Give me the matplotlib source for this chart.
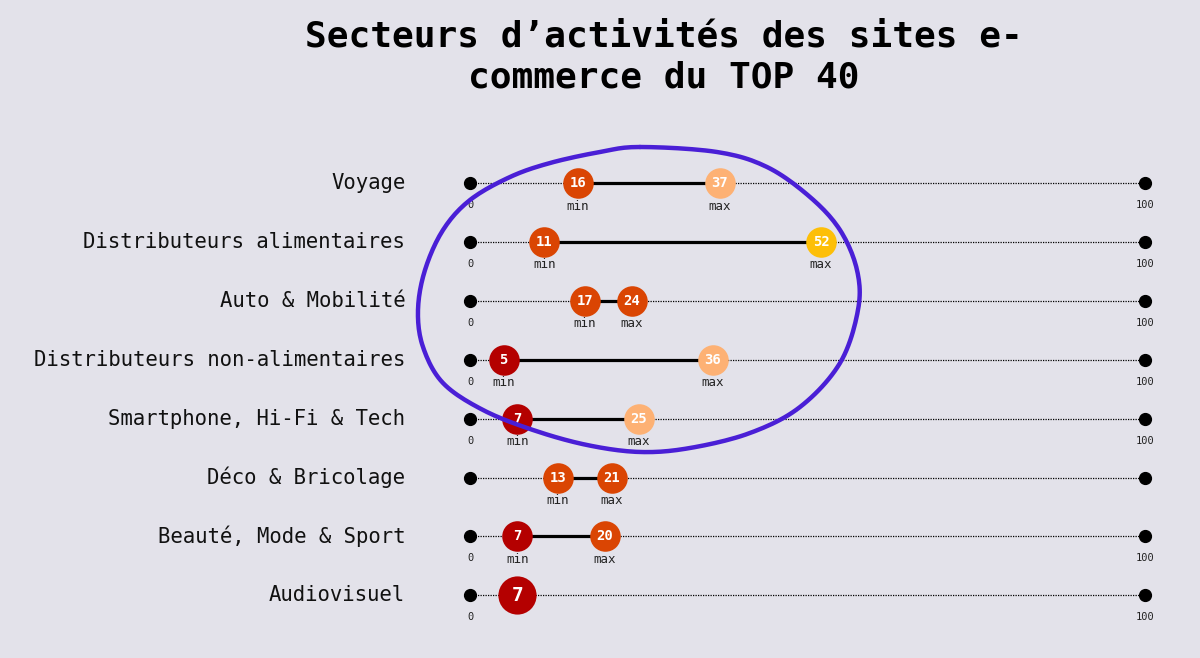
import matplotlib
matplotlib.use("Agg")
import matplotlib.pyplot as plt
import numpy as np

# data
secteurs = ["Voyage", "Distributeurs alimentaires", "Auto & Mobilité",
            "Distributeurs non-alimentaires", "Smartphone, Hi-Fi & Tech",
            "Déco & Bricolage", "Beauté, Mode & Sport", "Audiovisuel"]
val_min = [16, 11, 17, 5, 7, 13, 7, 7]
val_max = [37, 52, 24, 36, 25, 21, 20, None]
show_scale = [True, True, True, True, True, False, True, True]

bg = "#e3e2ea"
mono = "DejaVu Sans Mono"


def couleur(v):
    if v <= 7:
        return "#b40000"
    if v < 25:
        return "#da4503"
    if v < 50:
        return "#fdb174"
    return "#fdbf08"


fig = plt.figure(figsize=(12, 6.58), dpi=100, facecolor=bg)
ax = fig.add_axes([0, 0, 1, 1])
ax.set_facecolor(bg)
ax.set_xlim(-470 / 6.75, 730 / 6.75)
ax.set_ylim((658 - 183) / 58.9, -183 / 58.9)
ax.axis("off")

for i, nom in enumerate(secteurs):
    ax.text(-9.6, i, nom, ha="right", va="center", fontsize=14.9,
            family=mono, color="#111111")
    # echelle 0 - 100
    ax.plot([0, 100], [i, i], ls=(0, (1, 1)), lw=0.9, color="black", zorder=1)
    ax.plot([0, 100], [i, i], "o", ms=8.5, color="black", zorder=2, ls="none")
    if show_scale[i]:
        ax.annotate("0", (0, i), xytext=(0, -22), textcoords="offset pixels",
                    ha="center", va="center", fontsize=7.5, family=mono,
                    color="#222222")
        ax.annotate("100", (100, i), xytext=(0, -22), textcoords="offset pixels",
                    ha="center", va="center", fontsize=7.5, family=mono,
                    color="#222222")

    vmin = val_min[i]
    vmax = val_max[i]
    if vmax is None:
        ax.plot(vmin, i, "o", ms=27.5, color=couleur(vmin), mec="none", zorder=4)
        ax.text(vmin, i, str(vmin), ha="center", va="center", fontsize=14,
                family=mono, fontweight="bold", color="white", zorder=5)
        continue
    ax.plot([vmin, vmax], [i, i], lw=2.3, color="black", zorder=3)
    for v, lab in [(vmin, "min"), (vmax, "max")]:
        ax.plot(v, i, "o", ms=22, color=couleur(v), mec="none", zorder=4)
        ax.text(v, i, str(v), ha="center", va="center", fontsize=10,
                family=mono, fontweight="bold", color="white", zorder=5)
        ax.annotate(lab, (v, i), xytext=(0, -23), textcoords="offset pixels",
                    ha="center", va="center", fontsize=9, family=mono,
                    color="#222222", zorder=5)

fig.text(664 / 1200, 1 - 57 / 658,
         "Secteurs d’activités des sites e-\ncommerce du TOP 40",
         ha="center", va="center", fontsize=26, fontweight="bold",
         family=mono, linespacing=1.28, color="black")

# cercle dessine a la main par-dessus (repere en pixels)
trace = np.array([(640, 147), (600, 152), (550, 163), (510, 177), (470, 200),
                  (443, 230), (425, 270), (418, 310), (423, 347), (443, 383),
                  (483, 410), (533, 430), (587, 445), (640, 452), (690, 448),
                  (750, 433), (800, 407), (840, 363), (858, 310), (857, 270),
                  (840, 230), (810, 197), (767, 167), (717, 152)], float)
n = len(trace)
pts = []
for k in range(n):
    p0, p1, p2, p3 = trace[k - 1], trace[k], trace[(k + 1) % n], trace[(k + 2) % n]
    for t in np.linspace(0, 1, 12, endpoint=False):
        pts.append(0.5 * ((2 * p1) + (-p0 + p2) * t
                          + (2 * p0 - 5 * p1 + 4 * p2 - p3) * t ** 2
                          + (-p0 + 3 * p1 - 3 * p2 + p3) * t ** 3))
pts.append(pts[0])
pts = np.array(pts)

ov = fig.add_axes([0, 0, 1, 1], facecolor="none")
ov.set_xlim(0, 1200)
ov.set_ylim(658, 0)
ov.axis("off")
ov.plot(pts[:, 0], pts[:, 1], color="#4a1fd6", lw=3.2, solid_capstyle="round")

fig.savefig("out.png", dpi=100, facecolor=bg)
